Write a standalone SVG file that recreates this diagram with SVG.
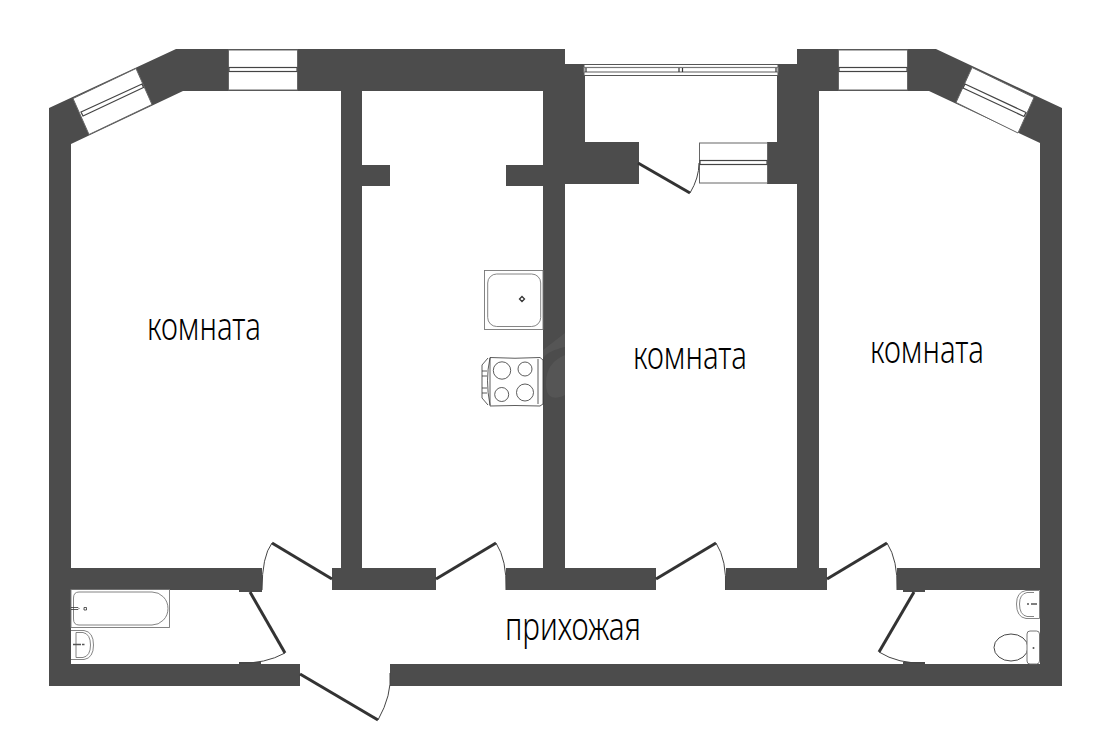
<svg xmlns="http://www.w3.org/2000/svg" width="1110" height="735" viewBox="0 0 1110 735">
<style>
.wall{fill:#4c4c4c}
.win{fill:#fff;stroke:#666;stroke-width:1}
.sash{fill:#fff;stroke:#444;stroke-width:1.2}
.leaf{stroke:#333;stroke-width:3;fill:none}
.arc{stroke:#444;stroke-width:1;fill:none}
.fix{fill:none;stroke:#777;stroke-width:.9}
.fixd{fill:none;stroke:#333;stroke-width:.8}
text{font-family:"Noto Sans","Liberation Sans",sans-serif;font-size:39px;font-weight:300;fill:#000}
</style>
<rect width="1110" height="735" fill="#fff"/>
<g id="walls" class="wall">
<path d="M49 108L176 49H341V91H183L71 144V590H49Z"/>
<path d="M1062 108L936 49H797V91H929L1040 143V590H1062Z"/>
<rect x="176" y="49" width="389" height="42"/>
<rect x="565" y="64" width="20" height="78"/>
<rect x="777" y="64" width="42" height="78"/>
<rect x="797" y="49" width="22" height="20"/>
<rect x="341" y="91" width="21" height="477"/>
<rect x="362" y="165" width="28" height="21"/>
<rect x="506" y="165" width="37" height="21"/>
<rect x="543" y="91" width="22" height="477"/>
<rect x="565" y="142" width="74" height="42"/>
<rect x="767" y="142" width="30" height="42"/>
<rect x="797" y="91" width="22" height="477"/>
<rect x="49" y="568" width="213" height="22"/>
<rect x="239" y="590" width="23" height="2"/>
<rect x="332" y="568" width="104" height="22"/>
<rect x="506" y="568" width="150" height="22"/>
<rect x="726" y="568" width="101" height="22"/>
<rect x="897" y="568" width="165" height="22"/>
<rect x="903" y="590" width="22" height="2"/>
<rect x="1040" y="590" width="22" height="96"/>
<rect x="49" y="590" width="22" height="96"/>
<rect x="49" y="664" width="251" height="22"/>
<rect x="390" y="664" width="672" height="22"/>
<rect x="239" y="662" width="22" height="2"/>
<rect x="903" y="662" width="22" height="2"/>
</g>
<path d="M543 350L565 333V347C553 350 548 352 543 358ZM565 355V395C555 400 546 399 546 384C546 368 553 360 565 355Z" fill="#555"/>
<g id="windows">
<rect class="win" x="228.500" y="50" width="69" height="40"/>
<rect class="sash" x="229" y="67.500" width="68" height="4"/>
<rect class="win" x="838.500" y="50" width="69" height="40"/>
<rect class="sash" x="839" y="67.500" width="68" height="4"/>
<path class="win" d="M73 98.500L136 68.500L152 104.500L89 134.500Z"/>
<path class="sash" d="M81 112L142 84L143.500 87.500L83 116Z"/>
<path class="win" d="M972 67.500L1034 97.500L1018 133L956 102.500Z"/>
<path class="sash" d="M965 84L1026 112.500L1024 116.500L963 88Z"/>
<rect class="win" x="699.500" y="143" width="68" height="40"/>
<rect class="sash" x="700" y="160.500" width="67" height="4"/>
<rect x="584" y="64.500" width="194" height="11" fill="#fff" stroke="#555" stroke-width="1"/>
<rect x="584" y="67.500" width="194" height="4.500" fill="#fff" stroke="#777" stroke-width="1.200"/>
<path d="M679 68V72M682.500 68V72M586 68V72M776 68V72" stroke="#333" stroke-width="1.200"/>
</g>
<g id="doors">
<path class="leaf" d="M332 579L272 543"/><path class="arc" d="M272 543Q262 556 262 590"/>
<path class="leaf" d="M250 592L285 653"/><path class="arc" d="M285 653Q265 664 239 663"/>
<path class="leaf" d="M300 674L378 720"/><path class="arc" d="M378 720Q392 695 390 673"/>
<path class="leaf" d="M436 579L496 543"/><path class="arc" d="M496 543Q507 560 506 590"/>
<path class="leaf" d="M656 579L716 543"/><path class="arc" d="M716 543Q727 560 725.500 590"/>
<path class="leaf" d="M827 579L887 543"/><path class="arc" d="M887 543Q898 560 897 590"/>
<path class="leaf" d="M914 592L879 652"/><path class="arc" d="M879 652Q898 664 925 663"/>
<path class="leaf" d="M638 163L690 193"/><path class="arc" d="M690 193Q699 178 699 163"/>
</g>
<g id="kitchen-sink">
<rect class="fix" x="484.500" y="270.500" width="58.500" height="59"/>
<rect class="fix" x="487.700" y="274" width="53" height="52.500" rx="9"/>
<path d="M522 296.500L524.500 299L522 301.500L519.500 299Z" fill="#fff" stroke="#333" stroke-width="1.300"/>
</g>
<g id="stove">
<path class="fixd" d="M490 357.500Q515 359 540 357.500L543 360V404L540 406Q515 405 490 406Z"/>
<path class="fixd" d="M490 358Q485 380 490 405M488 358L482 365V398L488 405M538 359V404"/>
<path d="M482 371h5M482 376h5M482 388h5M482 393h5" stroke="#333" stroke-width=".8"/>
<circle class="fixd" cx="502" cy="370.500" r="8.700"/>
<circle class="fixd" cx="525" cy="369" r="7"/>
<circle class="fixd" cx="501.700" cy="394.500" r="7"/>
<circle class="fixd" cx="525" cy="392.500" r="8.500"/>
</g>
<g id="bath">
<rect class="fix" x="71" y="589.500" width="98.500" height="38"/>
<path class="fix" d="M79 592H152A15.500 16 0 0 1 152 625H79Q73.500 625 73.500 619V598Q73.500 592 79 592Z"/>
<path class="fixd" d="M71 607.500H78L79 608.500L78 609.500H71M84 607.500h2.500v2.500h-2.500z"/>
</g>
<g id="sink-left">
<path class="fix" d="M71 630.500H84Q93.500 632 93.500 645Q93.500 658 84 659.500H71"/>
<path class="fix" d="M76 632.500H83Q90.500 634 90.500 645Q90.500 656 83 657.500H76Z"/>
<path d="M73 644.500H81M82 644.500h2.500" stroke="#555" stroke-width="1.500"/>
</g>
<g id="sink-right">
<path class="fix" d="M1039.500 590.500H1026Q1016.500 592 1016.500 604Q1016.500 617 1026 618.500H1039.500Z"/>
<path class="fix" d="M1034 592.500H1027Q1019.500 594 1019.500 604Q1019.500 615 1027 616.500H1034"/>
<path d="M1027 604H1029M1031 604H1037" stroke="#555" stroke-width="1.500"/>
</g>
<g id="toilet">
<ellipse cx="1011" cy="647.500" rx="17" ry="13.500" fill="#fff" stroke="#333" stroke-width=".9"/>
<rect x="1027" y="631" width="12.500" height="33" rx="3" fill="#fff" stroke="#666" stroke-width=".9"/>
<circle cx="1033.500" cy="648" r="1" fill="#555"/>
</g>
<g id="labels">
<text x="147" y="340" textLength="114" lengthAdjust="spacingAndGlyphs">комната</text>
<text x="633" y="369" textLength="114" lengthAdjust="spacingAndGlyphs">комната</text>
<text x="870" y="363" textLength="114" lengthAdjust="spacingAndGlyphs">комната</text>
<text x="505" y="640" textLength="136" lengthAdjust="spacingAndGlyphs">прихожая</text>
</g>
</svg>
